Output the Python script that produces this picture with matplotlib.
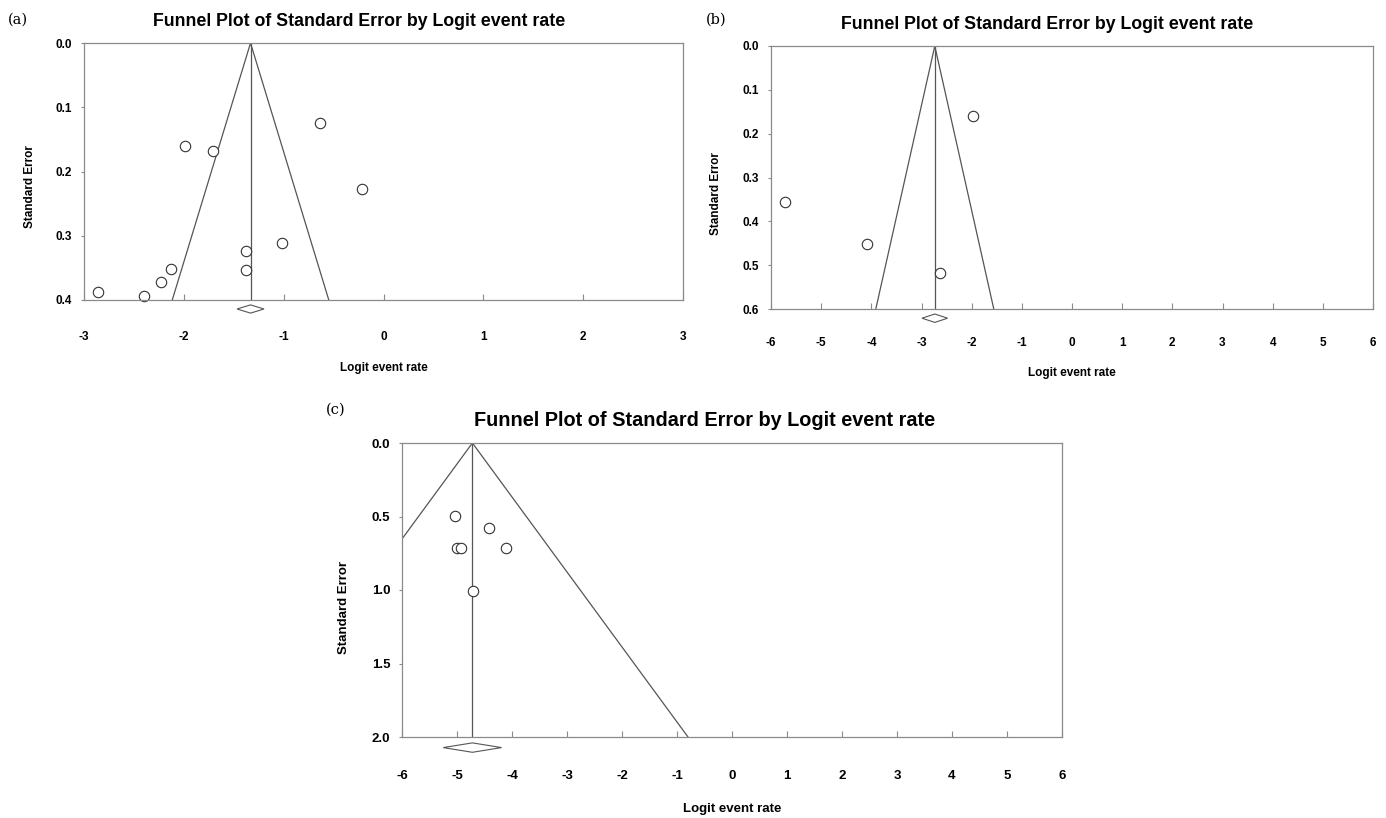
import numpy as np
import matplotlib
matplotlib.use("Agg")
import matplotlib.pyplot as plt

plt.rcParams['font.family'] = ['Liberation Sans', 'DejaVu Sans']

# Panel (a)
a_logit = [-2.86, -2.40, -2.23, -2.13, -1.99, -1.71, -1.38, -1.38, -1.02, -0.64, -0.22]
a_se = [0.388, 0.394, 0.372, 0.352, 0.161, 0.168, 0.323, 0.354, 0.312, 0.125, 0.227]
a_center, a_half = -1.332, 0.135
a_xticks = [-3, -2, -1, 0, 1, 2, 3]
a_yticks = [0.0, 0.1, 0.2, 0.3, 0.4]

# Panel (b)
b_logit = [-5.73, -4.08, -2.64, -1.97]
b_se = [0.355, 0.452, 0.518, 0.159]
b_center, b_half = -2.735, 0.255
b_xticks = [-6, -5, -4, -3, -2, -1, 0, 1, 2, 3, 4, 5, 6]
b_yticks = [0.0, 0.1, 0.2, 0.3, 0.4, 0.5, 0.6]

# Panel (c)
c_logit = [-5.03, -4.42, -5.00, -4.92, -4.11, -4.71]
c_se = [0.499, 0.581, 0.712, 0.712, 0.712, 1.006]
c_center, c_half = -4.72, 0.53
c_xticks = [-6, -5, -4, -3, -2, -1, 0, 1, 2, 3, 4, 5, 6]
c_yticks = [0.0, 0.5, 1.0, 1.5, 2.0]

W, H = 1386, 818
fig = plt.figure(figsize=(W / 100, H / 100), dpi=100)

line_col = '#555555'
frame_col = '#8a8a8a'


def funnel(rect, x, y, center, half, xticks, yticks, title_size, fs, diamond_off,
           tick_pad, xlab_pad, ylab_x):
    ax = fig.add_axes([rect[0] / W, 1 - rect[3] / H, (rect[2] - rect[0]) / W, (rect[3] - rect[1]) / H])
    ymax = yticks[-1]
    ax.set_xlim(xticks[0], xticks[-1])
    ax.set_ylim(ymax, 0)
    # funnel and mean line
    ax.plot([center - 1.96 * ymax, center, center + 1.96 * ymax], [ymax, 0, ymax],
            color=line_col, lw=0.9)
    ax.plot([center, center], [0, ymax], color=line_col, lw=0.9)
    ax.plot(x, y, 'o', ms=7.5, mfc='white', mec='#333333', mew=0.8, clip_on=False)
    # summary diamond below the axis
    yd = ymax + diamond_off * ymax
    dh = 0.016 * ymax
    ax.fill([center - half, center, center + half, center], [yd, yd - dh, yd, yd + dh],
            facecolor='white', edgecolor=line_col, lw=0.8, clip_on=False)
    ax.set_xticks(xticks)
    ax.set_xticklabels([str(t) for t in xticks], fontweight='bold', fontsize=fs)
    ax.set_yticks(yticks)
    ax.set_yticklabels([f'{t:.1f}' for t in yticks], fontweight='bold', fontsize=fs)
    ax.tick_params(axis='x', direction='in', length=4, color=frame_col, pad=tick_pad)
    ax.tick_params(axis='y', direction='out', length=2.5, color=frame_col, pad=6)
    for s in ax.spines.values():
        s.set_color(frame_col)
        s.set_linewidth(0.9)
    ax.set_xlabel('Logit event rate', fontweight='bold', fontsize=fs, labelpad=xlab_pad)
    ax.set_ylabel('Standard Error', fontweight='bold', fontsize=fs)
    ax.yaxis.set_label_coords(ylab_x, 0.44)
    ax.set_title('Funnel Plot of Standard Error by Logit event rate', fontweight='bold',
                 fontsize=title_size, pad=12, x=0.459)
    return ax


ax_a = funnel((84, 43, 683, 300), a_logit, a_se, a_center, a_half, a_xticks, a_yticks,
              12.8, 8.5, 0.035, 22, 14, -0.08)
ax_b = funnel((771, 46, 1373, 309), b_logit, b_se, b_center, b_half, b_xticks, b_yticks,
              12.8, 8.5, 0.035, 20, 13, -0.082)
ax_c = funnel((402, 443, 1062, 737), c_logit, c_se, c_center, c_half, c_xticks, c_yticks,
              14.3, 9.5, 0.036, 24, 15, -0.079)

fig.text(8 / W, 1 - 20 / H, '(a)', family='DejaVu Serif', fontsize=10.5, va='center')
fig.text(706 / W, 1 - 20 / H, '(b)', family='DejaVu Serif', fontsize=10.5, va='center')
fig.text(326 / W, 1 - 410 / H, '(c)', family='DejaVu Serif', fontsize=10.5, va='center')

fig.savefig('out.png', dpi=100)
